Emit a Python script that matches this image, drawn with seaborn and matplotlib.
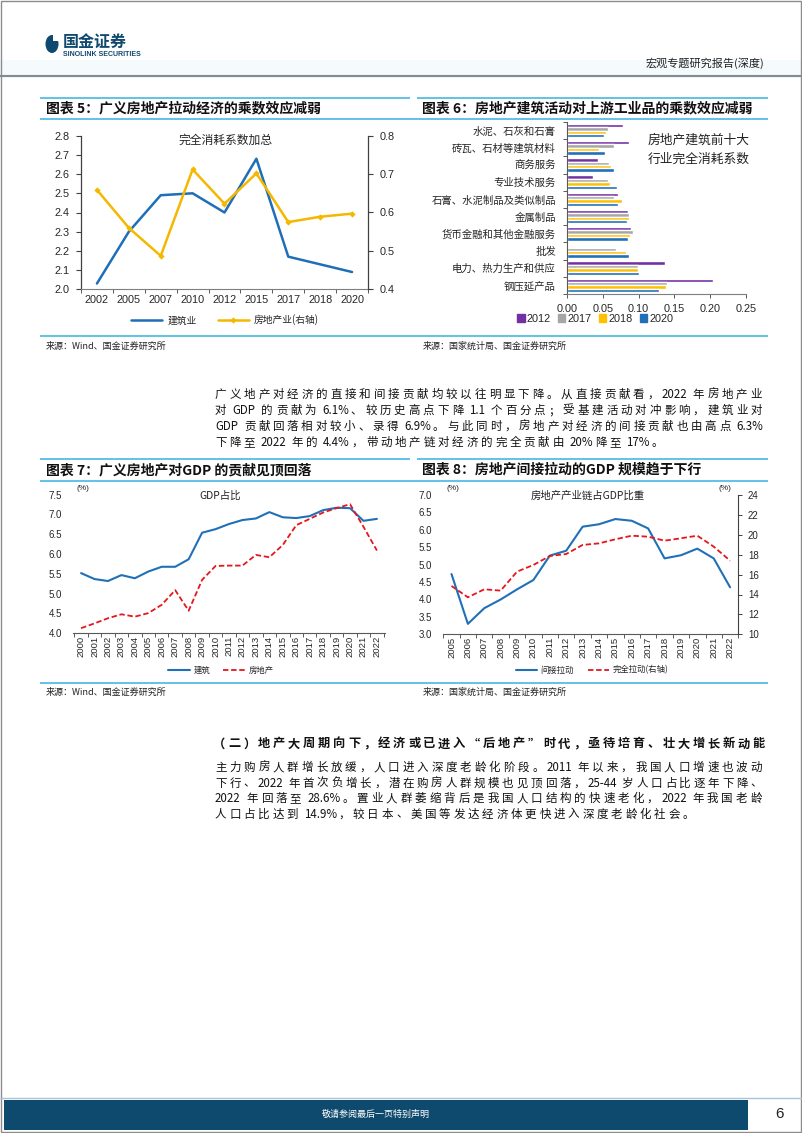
import numpy as np
import pandas as pd
import seaborn as sns
import matplotlib.pyplot as plt
from matplotlib.lines import Line2D
from matplotlib.patches import Rectangle, Ellipse, Patch


sns.set_theme(style="white")
plt.rcParams["font.family"] = ["Liberation Sans", "Noto Sans CJK SC", "DejaVu Sans"]
plt.rcParams["axes.unicode_minus"] = False

CJK = ["Noto Sans CJK SC", "DejaVu Sans"]
W, H = 802, 1133

# chart 5: total consumption coefficients
YEARS_5 = ["2002", "2005", "2007", "2010", "2012", "2015", "2017", "2018", "2020"]
CONSTRUCTION_5 = [2.03, 2.30, 2.49, 2.50, 2.40, 2.68, 2.17, 2.13, 2.09]
REALESTATE_5 = [0.659, 0.560, 0.487, 0.712, 0.623, 0.702, 0.575, 0.589, 0.597]

# chart 6: top ten upstream industries
INDUSTRIES_6 = [
    "水泥、石灰和石膏", "砖瓦、石材等建筑材料", "商务服务", "专业技术服务",
    "石膏、水泥制品及类似制品", "金属制品", "货币金融和其他金融服务", "批发",
    "电力、热力生产和供应", "钢压延产品",
]
YEARS_6 = ["2012", "2017", "2018", "2020"]
COEF_2012 = [0.078, 0.086, 0.043, 0.036, 0.071, 0.085, 0.089, 0.0, 0.137, 0.204]
COEF_2017 = [0.057, 0.065, 0.059, 0.057, 0.065, 0.086, 0.092, 0.068, 0.0995, 0.140]
COEF_2018 = [0.055, 0.045, 0.061, 0.060, 0.077, 0.086, 0.088, 0.083, 0.0985, 0.138]
COEF_2020 = [0.051, 0.053, 0.065, 0.070, 0.071, 0.084, 0.085, 0.086, 0.101, 0.128]
PALETTE_6 = {"2012": "#7230A3", "2017": "#A6A6A6", "2018": "#FFC000", "2020": "#1F70B8"}

# chart 7: share of GDP
YEARS_7 = [str(y) for y in range(2000, 2023)]
BUILD_7 = [5.52, 5.37, 5.32, 5.47, 5.39, 5.56, 5.68, 5.68, 5.87, 6.54, 6.63, 6.76,
           6.86, 6.90, 7.06, 6.93, 6.91, 6.96, 7.11, 7.17, 7.16, 6.84, 6.89]
REALTY_7 = [4.13, 4.25, 4.38, 4.48, 4.42, 4.51, 4.72, 5.09, 4.57, 5.35, 5.70, 5.71,
            5.71, 5.98, 5.92, 6.23, 6.73, 6.89, 7.05, 7.16, 7.26, 6.69, 6.09]

# chart 8: real estate chain share of GDP
YEARS_8 = [str(y) for y in range(2005, 2023)]
INDIRECT_8 = [4.73, 3.30, 3.75, 4.00, 4.29, 4.56, 5.26, 5.40, 6.09, 6.16, 6.31, 6.26,
              6.04, 5.18, 5.27, 5.46, 5.18, 4.35]
TOTAL_8 = [14.86, 13.72, 14.52, 14.39, 16.30, 16.97, 17.87, 18.07, 18.98, 19.14, 19.55,
           19.91, 19.81, 19.41, 19.65, 19.91, 18.81, 17.40]

PARA_1 = [
    "广义地产对经济的直接和间接贡献均较以往明显下降。从直接贡献看，2022 年房地产业",
    "对 GDP 的贡献为 6.1%、较历史高点下降 1.1 个百分点；受基建活动对冲影响，建筑业对",
    "GDP 贡献回落相对较小、录得 6.9%。与此同时，房地产对经济的间接贡献也由高点 6.3%",
    "下降至 2022 年的 4.4%，带动地产链对经济的完全贡献由 20%降至 17%。",
]
HEADING_2 = "（二）地产大周期向下，经济或已进入“后地产”时代，亟待培育、壮大增长新动能"
PARA_2 = [
    "主力购房人群增长放缓，人口进入深度老龄化阶段。2011 年以来，我国人口增速也波动",
    "下行、2022 年首次负增长，潜在购房人群规模也见顶回落，25-44 岁人口占比逐年下降、",
    "2022 年回落至 28.6%。置业人群萎缩背后是我国人口结构的快速老化，2022 年我国老龄",
    "人口占比达到 14.9%，较日本、美国等发达经济体更快进入深度老龄化社会。",
]

TITLE_BLUE = "#55BDE6"
LAT_W = {".": 0.27, "%": 0.86, "-": 0.35, "G": 0.69, "D": 0.69, "P": 0.63}


def fx(x):
    return x / W


def fy(y):
    return 1 - y / H


def rect(x0, y0, x1, y1):
    return [x0 / W, 1 - y1 / H, (x1 - x0) / W, (y1 - y0) / H]


def hline(fig, x0, x1, y, color, lw):
    fig.add_artist(Line2D([fx(x0), fx(x1)], [fy(y), fy(y)], transform=fig.transFigure,
                          color=color, lw=lw, solid_capstyle="butt"))


def put_line(fig, text, x0, yc, fs, x1=None, gap=2.8, weight="normal", color="#111111"):
    em = fs * 100 / 72
    tokens, buf = [], ""
    for ch in text:
        if ch == " ":
            if buf:
                tokens.append(buf)
                buf = ""
            tokens.append(" ")
        elif ord(ch) < 128:
            buf += ch
        else:
            if buf:
                tokens.append(buf)
                buf = ""
            tokens.append(ch)
    if buf:
        tokens.append(buf)

    def tw(t):
        if t == " ":
            return 0.0
        if ord(t[0]) >= 128:
            return em
        return sum(LAT_W.get(c, 0.55) for c in t) * em

    widths = [tw(t) for t in tokens]
    if x1 is not None:
        gap = (x1 - x0 - sum(widths)) / (len(tokens) - 1)
    x = x0
    base = yc + 0.36 * em
    for t, w in zip(tokens, widths):
        if t != " ":
            fig.text(fx(x), fy(base), t, fontsize=fs, family=CJK, weight=weight,
                     color=color, ha="left", va="baseline")
        x += w + gap


def chart_title(fig, text, x0, x1, y_top, y_bot, tx):
    hline(fig, x0, x1, y_top, TITLE_BLUE, 1.3)
    fig.text(fx(tx), fy((y_top + y_bot) / 2), text, fontsize=10, weight="bold",
             family=CJK, ha="left", va="center", color="#111111")


def cat_ticks(ax, labels, fs, rotation=0, pad=3, minor_len=3):
    pos = np.arange(len(labels))
    ax.set_xticks(pos)
    ax.set_xticklabels(labels, rotation=rotation, fontsize=fs, color="#262626")
    ax.set_xticks(np.arange(-0.5, len(labels), 1), minor=True)
    ax.tick_params(axis="x", which="major", length=0, pad=pad, bottom=True)
    ax.tick_params(axis="x", which="minor", length=minor_len, width=0.7,
                   color="#595959", bottom=True, direction="out")


fig = plt.figure(figsize=(W / 100, H / 100), dpi=100)

# ---------------- page frame ----------------
fig.add_artist(Rectangle((fx(0), fy(74)), 1, 14 / H, transform=fig.transFigure,
                         color="#F5FAFD", lw=0))
hline(fig, 0, W, 75.5, "#7D8C97", 1.6)
fig.add_artist(Rectangle((fx(1), fy(1132)), 800 / W, 1131 / H, transform=fig.transFigure,
                         fill=False, edgecolor="#8C8C8C", lw=1))
fig.add_artist(Ellipse((fx(52), fy(44)), 13 / W, 18 / H, transform=fig.transFigure,
                       color="#10496F", lw=0))
fig.add_artist(Rectangle((fx(53.5), fy(41)), 5 / W, 6 / H, transform=fig.transFigure,
                         color="white", lw=0))
fig.text(fx(63), fy(42), "国金证券", fontsize=11.5, weight="bold", family=CJK,
         color="#10496F", ha="left", va="center")
fig.text(fx(63), fy(55), "SINOLINK SECURITIES", fontsize=5, weight="bold",
         color="#10496F", ha="left", va="center")
fig.text(fx(764), fy(63), "宏观专题研究报告(深度)", fontsize=8, family=CJK,
         color="#222222", ha="right", va="center")

hline(fig, 0, W, 1098, "#A8C4D4", 1.0)
fig.add_artist(Rectangle((fx(4), fy(1130)), 744 / W, 30 / H, transform=fig.transFigure,
                         color="#0E4A6D", lw=0))
fig.text(fx(376), fy(1114), "敬请参阅最后一页特别声明", fontsize=6.5, family=CJK,
         color="white", ha="center", va="center")
fig.text(fx(779), fy(1114), "6", fontsize=11, color="#222222", ha="center", va="center")

# ---------------- chart titles and sources ----------------
chart_title(fig, "图表 5：广义房地产拉动经济的乘数效应减弱", 40, 410, 97.5, 118.5, 46)
chart_title(fig, "图表 6：房地产建筑活动对上游工业品的乘数效应减弱", 417, 768, 97.5, 118.5, 422)
hline(fig, 40, 768, 118.5, TITLE_BLUE, 1.3)
hline(fig, 40, 768, 336, TITLE_BLUE, 1.3)
fig.text(fx(46), fy(346), "来源：Wind、国金证券研究所", fontsize=6.5, family=CJK,
         ha="left", va="center", color="#222222")
fig.text(fx(423), fy(346), "来源：国家统计局、国金证券研究所", fontsize=6.5, family=CJK,
         ha="left", va="center", color="#222222")

chart_title(fig, "图表 7：广义房地产对GDP 的贡献见顶回落", 40, 410, 459, 481, 46)
chart_title(fig, "图表 8：房地产间接拉动的GDP 规模趋于下行", 417, 768, 459, 481, 422)
hline(fig, 40, 768, 481, TITLE_BLUE, 1.3)
hline(fig, 40, 768, 683, TITLE_BLUE, 1.3)
fig.text(fx(46), fy(692), "来源：Wind、国金证券研究所", fontsize=6.5, family=CJK,
         ha="left", va="center", color="#222222")
fig.text(fx(423), fy(692), "来源：国家统计局、国金证券研究所", fontsize=6.5, family=CJK,
         ha="left", va="center", color="#222222")

# ---------------- body text ----------------
for i, line in enumerate(PARA_1):
    put_line(fig, line, 215, 394 + i * 16, 8.3, x1=762 if i < 3 else None)
put_line(fig, HEADING_2, 213, 743, 8.8, x1=765, weight="bold")
for i, line in enumerate(PARA_2):
    put_line(fig, line, 215, 767 + i * 15.5, 8.3, x1=762 if i < 3 else None)

# ---------------- chart 5 ----------------
ax5 = fig.add_axes(rect(81, 135.7, 368, 289.3))
ax5r = ax5.twinx()
pos5 = np.arange(len(YEARS_5))
sns.lineplot(x=pos5, y=CONSTRUCTION_5, ax=ax5, color="#1F6FB8", lw=1.8)
sns.lineplot(x=pos5, y=REALESTATE_5, ax=ax5r, color="#F5B800", lw=1.8,
             marker="D", markersize=3.2, markeredgewidth=0)
ax5.set_xlim(-0.5, len(YEARS_5) - 0.5)
ax5.set_ylim(2.0, 2.8)
ax5r.set_ylim(0.4, 0.8)
ax5.set_yticks(np.arange(2.0, 2.81, 0.1))
ax5.set_yticklabels([f"{v:.1f}" for v in np.arange(2.0, 2.81, 0.1)], fontsize=7.8, color="#262626")
ax5r.set_yticks(np.arange(0.4, 0.81, 0.1))
ax5r.set_yticklabels([f"{v:.1f}" for v in np.arange(0.4, 0.81, 0.1)], fontsize=7.8, color="#262626")
cat_ticks(ax5, YEARS_5, 7.8, pad=4)
ax5.tick_params(axis="y", left=True, length=3.5, width=0.8, color="#404040", pad=5)
ax5r.tick_params(axis="y", right=True, length=3.5, width=0.8, color="#404040", pad=5)
for a in (ax5, ax5r):
    a.set_xlabel("")
    a.set_ylabel("")
    a.spines["top"].set_visible(False)
ax5.spines["right"].set_visible(False)
ax5r.spines["left"].set_visible(False)
ax5r.spines["bottom"].set_visible(False)
ax5.spines["left"].set_color("#404040")
ax5.spines["left"].set_linewidth(0.9)
ax5r.spines["right"].set_color("#404040")
ax5r.spines["right"].set_linewidth(0.9)
ax5.spines["bottom"].set_color("#7F7F7F")
ax5.spines["bottom"].set_linewidth(0.8)
fig.text(fx(225), fy(140), "完全消耗系数加总", fontsize=8.5, family=CJK,
         ha="center", va="center", color="#222222")
fig.legend(
    handles=[Line2D([], [], color="#1F6FB8", lw=1.8),
             Line2D([], [], color="#F5B800", lw=1.8, marker="D", markersize=3.2, markeredgewidth=0)],
    labels=["建筑业", "房地产业(右轴)"], loc="center", bbox_to_anchor=(fx(225), fy(320)),
    ncol=2, frameon=False, handlelength=3.2, columnspacing=2.2, handletextpad=0.5,
    prop={"family": CJK, "size": 7},
)

# ---------------- chart 6 ----------------
df6 = pd.DataFrame({
    "industry": INDUSTRIES_6 * 4,
    "year": [y for y in YEARS_6 for _ in INDUSTRIES_6],
    "value": COEF_2012 + COEF_2017 + COEF_2018 + COEF_2020,
})
ax6 = fig.add_axes(rect(567, 122, 746, 294))
sns.barplot(data=df6, y="industry", x="value", hue="year", hue_order=YEARS_6,
            palette=PALETTE_6, orient="h", width=0.8, saturation=1, errorbar=None,
            legend=False, ax=ax6)
ax6.set_xlim(0, 0.25)
ax6.set_ylim(len(INDUSTRIES_6) - 0.5, -0.5)
ax6.set_xlabel("")
ax6.set_ylabel("")
ax6.set_xticks(np.arange(0, 0.251, 0.05))
ax6.set_xticklabels([f"{v:.2f}" for v in np.arange(0, 0.251, 0.05)], fontsize=7.8, color="#262626")
ax6.tick_params(axis="x", bottom=True, length=3, width=0.7, color="#595959", pad=4)
ax6.set_yticks(np.arange(len(INDUSTRIES_6)))
ax6.set_yticklabels(INDUSTRIES_6, family=CJK, fontsize=7.5, color="#262626")
ax6.set_yticks(np.arange(-0.5, len(INDUSTRIES_6), 1), minor=True)
ax6.tick_params(axis="y", which="major", length=0, pad=8)
ax6.tick_params(axis="y", which="minor", left=True, length=3, width=0.7, color="#595959")
ax6.spines["top"].set_visible(False)
ax6.spines["right"].set_visible(False)
ax6.spines["left"].set_color("#595959")
ax6.spines["left"].set_linewidth(0.8)
ax6.spines["bottom"].set_color("#7F7F7F")
ax6.spines["bottom"].set_linewidth(0.8)
fig.text(fx(699), fy(140), "房地产建筑前十大", fontsize=9.2, family=CJK,
         ha="center", va="center", color="#222222")
fig.text(fx(699), fy(159), "行业完全消耗系数", fontsize=9.2, family=CJK,
         ha="center", va="center", color="#222222")
fig.legend(
    handles=[Patch(color=PALETTE_6[y]) for y in YEARS_6], labels=YEARS_6,
    loc="center", bbox_to_anchor=(fx(595), fy(319)), ncol=4, frameon=False,
    handlelength=0.7, handleheight=0.7, handletextpad=0.15, columnspacing=0.7, fontsize=7.8,
)

# ---------------- chart 7 ----------------
ax7 = fig.add_axes(rect(73, 494.7, 385, 633.3))
pos7 = np.arange(len(YEARS_7))
sns.lineplot(x=pos7, y=BUILD_7, ax=ax7, color="#2070B8", lw=1.5)
sns.lineplot(x=pos7, y=REALTY_7, ax=ax7, color="#E5161C", lw=1.3, linestyle=(0, (3, 1.5)))
ax7.set_xlim(-0.6, len(YEARS_7) - 0.4)
ax7.set_ylim(4.0, 7.5)
ax7.set_yticks(np.arange(4.0, 7.51, 0.5))
ax7.set_yticklabels([f"{v:.1f}" for v in np.arange(4.0, 7.51, 0.5)], fontsize=7, color="#262626")
ax7.tick_params(axis="y", length=0, pad=8)
cat_ticks(ax7, YEARS_7, 6.8, rotation=90, pad=2, minor_len=3)
ax7.set_xlabel("")
ax7.set_ylabel("")
for s in ("top", "right", "left"):
    ax7.spines[s].set_visible(False)
ax7.spines["bottom"].set_color("#595959")
ax7.spines["bottom"].set_linewidth(0.8)
fig.text(fx(83), fy(489), "(%)", fontsize=6, ha="center", va="center", color="#262626")
fig.text(fx(220), fy(496), "GDP占比", fontsize=7.5, family=CJK,
         ha="center", va="center", color="#222222")
fig.legend(
    handles=[Line2D([], [], color="#2070B8", lw=1.5),
             Line2D([], [], color="#E5161C", lw=1.3, linestyle=(0, (3, 1.5)))],
    labels=["建筑", "房地产"], loc="center", bbox_to_anchor=(fx(221), fy(670)),
    ncol=2, frameon=False, handlelength=2.6, columnspacing=1.6, handletextpad=0.4,
    prop={"family": CJK, "size": 6},
)

# ---------------- chart 8 ----------------
ax8 = fig.add_axes(rect(443.3, 495, 738.3, 634.3))
ax8r = ax8.twinx()
pos8 = np.arange(len(YEARS_8))
sns.lineplot(x=pos8, y=INDIRECT_8, ax=ax8, color="#2070B8", lw=1.5)
sns.lineplot(x=pos8, y=TOTAL_8, ax=ax8r, color="#E5161C", lw=1.3, linestyle=(0, (3, 1.5)))
ax8.set_xlim(-0.5, len(YEARS_8) - 0.5)
ax8.set_ylim(3.0, 7.0)
ax8r.set_ylim(10, 24)
ax8.set_yticks(np.arange(3.0, 7.01, 0.5))
ax8.set_yticklabels([f"{v:.1f}" for v in np.arange(3.0, 7.01, 0.5)], fontsize=7, color="#262626")
ax8r.set_yticks(np.arange(10, 25, 2))
ax8r.set_yticklabels([str(v) for v in range(10, 25, 2)], fontsize=7, color="#262626")
ax8.tick_params(axis="y", length=0, pad=8)
ax8r.tick_params(axis="y", right=True, length=3, width=0.7, color="#404040", pad=4)
cat_ticks(ax8, YEARS_8, 6.8, rotation=90, pad=2, minor_len=3)
for a in (ax8, ax8r):
    a.set_xlabel("")
    a.set_ylabel("")
    a.spines["top"].set_visible(False)
    a.spines["left"].set_visible(False)
ax8.spines["right"].set_visible(False)
ax8r.spines["bottom"].set_visible(False)
ax8r.spines["right"].set_color("#404040")
ax8r.spines["right"].set_linewidth(0.8)
ax8.spines["bottom"].set_color("#595959")
ax8.spines["bottom"].set_linewidth(0.8)
fig.text(fx(453), fy(489), "(%)", fontsize=6, ha="center", va="center", color="#262626")
fig.text(fx(725), fy(489), "(%)", fontsize=6, ha="center", va="center", color="#262626")
fig.text(fx(588), fy(496), "房地产产业链占GDP比重", fontsize=7.5, family=CJK,
         ha="center", va="center", color="#222222")
fig.legend(
    handles=[Line2D([], [], color="#2070B8", lw=1.5),
             Line2D([], [], color="#E5161C", lw=1.3, linestyle=(0, (3, 1.5)))],
    labels=["间接拉动", "完全拉动(右轴)"], loc="center", bbox_to_anchor=(fx(592), fy(670)),
    ncol=2, frameon=False, handlelength=2.6, columnspacing=1.6, handletextpad=0.4,
    prop={"family": CJK, "size": 6},
)

fig.savefig("out.png", dpi=100)
